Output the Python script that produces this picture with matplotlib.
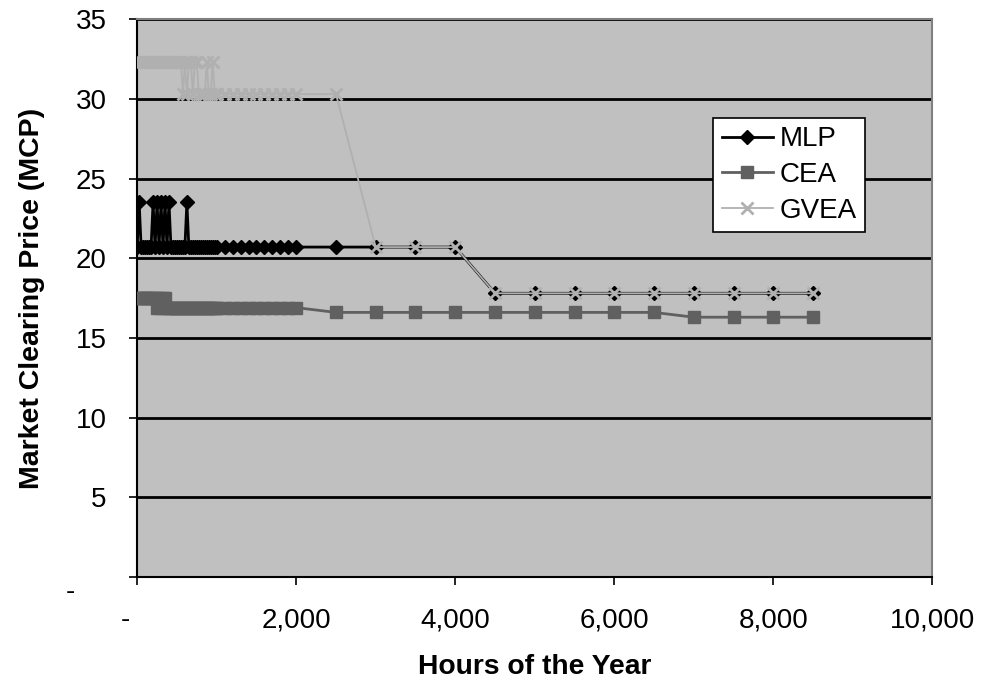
# market clearing price over the year for the three utilities

import matplotlib.pyplot as plt
from matplotlib.ticker import FuncFormatter, MultipleLocator

plt.rcParams["font.family"] = ["Liberation Sans", "DejaVu Sans"]

hours = [
    0, 25, 50, 75, 100, 125, 150, 175, 200, 225, 250, 275, 300, 325, 350,
    375, 400, 425, 450, 475, 500, 525, 550, 575, 600, 625, 650, 675, 700,
    725, 750, 775, 800, 825, 850, 875, 900, 925, 950, 975, 1000,
    1100, 1200, 1300, 1400, 1500, 1600, 1700, 1800, 1900, 2000,
    2500, 3000, 3500, 4000, 4500, 5000, 5500, 6000, 6500, 7000, 7500, 8000, 8500,
]

mlp = [
    20.7, 23.5, 20.7, 20.7, 20.7, 20.7, 20.7, 20.7, 23.5, 20.7, 23.5, 20.7, 23.5, 20.7, 23.5,
    20.7, 23.5, 20.7, 20.7, 20.7, 20.7, 20.7, 20.7, 20.7, 20.7, 23.5, 20.7, 20.7, 20.7,
    20.7, 20.7, 20.7, 20.7, 20.7, 20.7, 20.7, 20.7, 20.7, 20.7, 20.7, 20.7,
    20.7, 20.7, 20.7, 20.7, 20.7, 20.7, 20.7, 20.7, 20.7, 20.7,
    20.7, 20.7, 20.7, 20.7, 17.8, 17.8, 17.8, 17.8, 17.8, 17.8, 17.8, 17.8, 17.8,
]

cea = [
    17.5, 17.5, 17.5, 17.5, 17.5, 17.5, 17.5, 17.5, 17.5, 17.5, 16.9, 17.5, 16.9, 17.5, 17.5,
    16.9, 16.9, 16.9, 16.9, 16.9, 16.9, 16.9, 16.9, 16.9, 16.9, 16.9, 16.9, 16.9, 16.9,
    16.9, 16.9, 16.9, 16.9, 16.9, 16.9, 16.9, 16.9, 16.9, 16.9, 16.9, 16.9,
    16.9, 16.9, 16.9, 16.9, 16.9, 16.9, 16.9, 16.9, 16.9, 16.9,
    16.6, 16.6, 16.6, 16.6, 16.6, 16.6, 16.6, 16.6, 16.6, 16.3, 16.3, 16.3, 16.3,
]

gvea = [
    32.3, 32.3, 32.3, 32.3, 32.3, 32.3, 32.3, 32.3, 32.3, 32.3, 32.3, 32.3, 32.3, 32.3, 32.3,
    32.3, 32.3, 32.3, 32.3, 32.3, 32.3, 32.3, 32.3, 30.3, 32.3, 30.3, 32.3, 32.3, 30.3,
    32.3, 32.3, 30.3, 30.3, 30.3, 30.3, 32.3, 30.3, 30.3, 32.3, 30.3, 30.3,
    30.3, 30.3, 30.3, 30.3, 30.3, 30.3, 30.3, 30.3, 30.3, 30.3,
    30.3, 20.7, 20.7, 20.7, 17.8, 17.8, 17.8, 17.8, 17.8, 17.8, 17.8, 17.8, 17.8,
]


# zero shows as a dash, like the spreadsheet accounting format
def fmt_x(v, pos):
    if v == 0:
        return "-   "
    return "{:,.0f}".format(v)


def fmt_y(v, pos):
    if v == 0:
        return ""
    return "{:,.0f}".format(v)


fig = plt.figure(figsize=(9.94, 6.86), dpi=100)
ax = fig.add_axes([0.138, 0.159, 0.8, 0.813])
ax.set_facecolor("#C0C0C0")

ax.plot(hours, mlp, color="black", lw=2.0, marker="D", ms=7.5, label="MLP", zorder=3)
ax.plot(hours, cea, color="#606060", lw=2.0, marker="s", ms=9, label="CEA", zorder=4)
ax.plot(hours, gvea, color="#B0B0B0", lw=1.3, marker="x", ms=9, mew=2,
        label="GVEA", zorder=5)

ax.set_xlim(0, 10000)
ax.set_ylim(0, 35)
ax.xaxis.set_major_locator(MultipleLocator(2000))
ax.yaxis.set_major_locator(MultipleLocator(5))
ax.xaxis.set_major_formatter(FuncFormatter(fmt_x))
ax.yaxis.set_major_formatter(FuncFormatter(fmt_y))
ax.tick_params(direction="out", length=6, width=1.2, labelsize=20, pad=16, colors="black")
ax.annotate("-", xy=(0, 0), xycoords=("axes fraction", "data"), xytext=(-48, -11),
            textcoords="offset points", ha="center", va="center", fontsize=20)

ax.yaxis.grid(True, color="black", lw=2)
ax.set_axisbelow(True)
for side in ["top", "right"]:
    ax.spines[side].set_color("#808080")
    ax.spines[side].set_linewidth(1.5)
for side in ["left", "bottom"]:
    ax.spines[side].set_color("black")
    ax.spines[side].set_linewidth(1.5)

ax.set_xlabel("Hours of the Year", fontsize=20.3, fontweight="bold", labelpad=15)
ax.set_ylabel("Market Clearing Price (MCP)", fontsize=20.5, fontweight="bold", labelpad=22)

leg = ax.legend(loc="upper left", bbox_to_anchor=(0.7245, 0.8226), borderaxespad=0,
                fontsize=20, fancybox=False, framealpha=1, edgecolor="black",
                handlelength=1.85, handletextpad=0.25, labelspacing=0.35, borderpad=0.3)
leg.get_frame().set_linewidth(1.2)

fig.savefig("out.png", dpi=100)
